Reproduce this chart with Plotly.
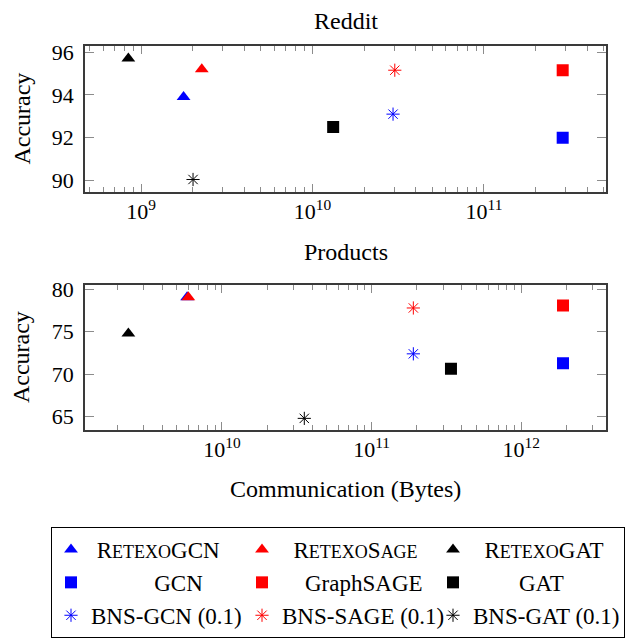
import plotly.graph_objects as go

# The page body adds an 8 px margin, so the figure is 8 px smaller than the window
W, H = 636, 631
OFF = 8  # screen offset of the figure inside the window

series_names = [
    "R<span style='font-size:18px'>ETEXO</span>GCN",
    "R<span style='font-size:18px'>ETEXO</span>S<span style='font-size:18px'>AGE</span>",
    "R<span style='font-size:18px'>ETEXO</span>GAT",
    "GCN", "GraphSAGE", "GAT",
    "BNS-GCN (0.1)", "BNS-SAGE (0.1)", "BNS-GAT (0.1)",
]
series_colors = ["blue", "red", "black", "blue", "red", "black", "blue", "red", "black"]
series_symbols = ["triangle-up"] * 3 + ["square"] * 3 + ["asterisk-open"] * 3

# Reddit: communication (bytes) and accuracy
reddit_comm = [1.77e9, 2.26e9, 8.43e8, 2.88e11, 2.88e11, 1.32e10, 2.95e10, 3.02e10, 2.01e9]
reddit_acc = [93.9, 95.2, 95.7, 92.0, 95.15, 92.5, 93.1, 95.15, 90.05]

# Products
products_comm = [5.85e9, 5.96e9, 2.37e9, 1.9e12, 1.9e12, 3.39e11, 1.9e11, 1.9e11, 3.55e10]
products_acc = [79.05, 79.05, 74.8, 71.3, 78.1, 70.65, 72.4, 77.8, 64.8]

reddit_yticks = [90, 92, 94, 96]
products_yticks = [65, 70, 75, 80]

legend_pad = ["\u00a0", "\u00a0\u00a0", "\u00a0\u00a0",
              "\u00a0" * 11, "\u00a0\u00a0\u00a0\u00a0", "\u00a0" * 8,
              "", "", ""]

FONT = "Liberation Serif"
TXT = 24
LEG = 23

fig = go.Figure()

def marker_for(i):
    sym = series_symbols[i]
    if sym.startswith("asterisk"):
        return dict(symbol=sym, size=11, color=series_colors[i],
                    line=dict(color=series_colors[i], width=1))
    if sym == "square":
        return dict(symbol=sym, size=12, color=series_colors[i], line=dict(width=0))
    return dict(symbol=sym, size=12, color=series_colors[i], line=dict(width=0))

for i, name in enumerate(series_names):
    fig.add_trace(go.Scatter(
        x=[reddit_comm[i]], y=[reddit_acc[i]], mode="markers",
        name=legend_pad[i] + name, legendgroup=str(i), showlegend=True,
        marker=marker_for(i), xaxis="x", yaxis="y"))
for i, name in enumerate(series_names):
    fig.add_trace(go.Scatter(
        x=[products_comm[i]], y=[products_acc[i]], mode="markers",
        name=legend_pad[i] + name, legendgroup=str(i), showlegend=False,
        marker=marker_for(i), xaxis="x2", yaxis="y2"))

def px_x(v):
    return (v - OFF) / W

def px_yp(v):
    return 1 - (v - OFF) / H

xdom = [px_x(85), px_x(606)]

frame = dict(showline=True, linecolor="#3a3a3a", linewidth=1.6, mirror="ticks",
             ticks="inside", tickcolor="#8c8c8c", tickwidth=1.2,
             showgrid=False, zeroline=False)

xcommon = dict(type="log", dtick=1, exponentformat="power", ticklen=8,
               tickfont=dict(family=FONT, size=17.6, color="black"),
               minor=dict(ticks="inside", ticklen=5, dtick="D1",
                          tickcolor="#8c8c8c", tickwidth=1.1, showgrid=False),
               **frame)
ycommon = dict(ticklen=9, tickfont=dict(family=FONT, size=22, color="black"),
               ticklabelstandoff=5, **frame)

fig.update_layout(
    width=W, height=H,
    margin=dict(l=0, r=0, t=0, b=0, autoexpand=False),
    paper_bgcolor="white", plot_bgcolor="white",
    font=dict(family=FONT, size=TXT, color="black"),
    xaxis=dict(domain=xdom, range=[8.673, 11.712], anchor="y", **xcommon),
    yaxis=dict(domain=[px_yp(191.7), px_yp(46)], range=[89.48, 96.28], anchor="x",
               tickvals=reddit_yticks, **ycommon),
    xaxis2=dict(domain=xdom, range=[9.085, 12.566], anchor="y2", **xcommon),
    yaxis2=dict(domain=[px_yp(430), px_yp(284.7)], range=[63.43, 80.54], anchor="x2",
                tickvals=products_yticks, **ycommon),
    legend=dict(orientation="h", x=px_x(51), xanchor="left", y=px_yp(527), yanchor="top",
                bordercolor="black", borderwidth=1, bgcolor="white",
                font=dict(family=FONT, size=LEG, color="black"),
                entrywidth=146, entrywidthmode="pixels", tracegroupgap=0,
                itemclick=False),
    showlegend=True,
)

annos = [
    dict(text="Reddit", x=px_x(345.5), y=px_yp(21.5)),
    dict(text="Products", x=px_x(345.5), y=px_yp(251.7)),
    dict(text="Communication (Bytes)", x=px_x(345.5), y=px_yp(489.3)),
    dict(text="Accuracy", x=px_x(21.7), y=px_yp(118.9), textangle=-90),
    dict(text="Accuracy", x=px_x(21.7), y=px_yp(357.4), textangle=-90),
]
for a in annos:
    fig.add_annotation(xref="paper", yref="paper", showarrow=False,
                       xanchor="center", yanchor="middle", borderpad=0,
                       font=dict(family=FONT, size=TXT, color="black"), **a)

fig.write_html("out.html")
